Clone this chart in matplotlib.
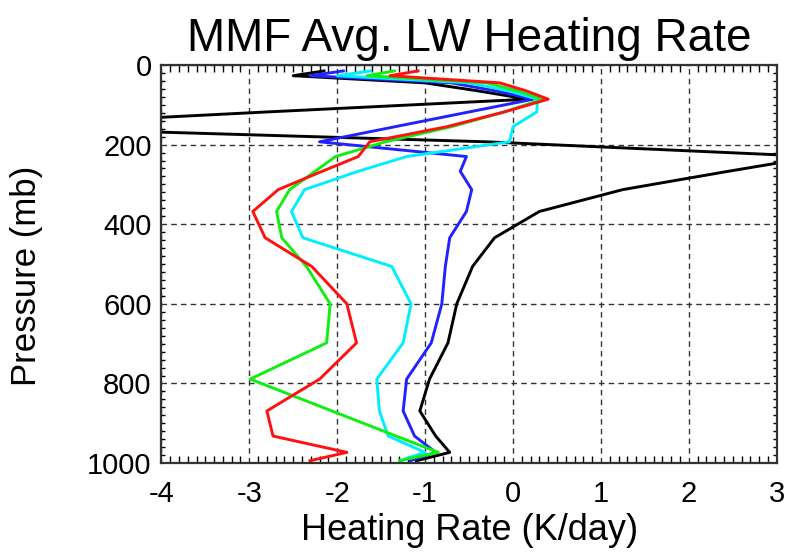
import numpy as np
import matplotlib
matplotlib.use('Agg')
import matplotlib.pyplot as plt
from matplotlib.ticker import MultipleLocator

plt.rcParams['font.family'] = ['Liberation Sans', 'DejaVu Sans']
plt.rcParams['axes.unicode_minus'] = False

# pressure levels (mb) shared by all profiles
pres = [15, 27, 45, 65, 86, 118, 155, 193, 230, 267, 313, 368, 434, 506,
        600, 698, 789, 869, 932, 973, 994]

# heating rate profiles (K/day)
black = [-2.15, -2.5, -1.0, -0.4, 0.17, -2.8, -6.1, -0.3, 3.45, 2.45, 1.25,
         0.30, -0.21, -0.46, -0.64, -0.74, -0.95, -1.06, -0.88, -0.72, -1.1]
blue = [-1.93, -2.31, -0.7, -0.2, 0.23, -0.5, -1.34, -2.2, -0.53, -0.60, -0.47,
        -0.53, -0.72, -0.77, -0.81, -0.93, -1.21, -1.25, -1.12, -0.88, -1.17]
cyan = [-1.62, -2.0, -0.5, -0.05, 0.28, 0.27, 0.0, -0.04, -1.21, -1.76, -2.37,
        -2.52, -2.39, -1.38, -1.16, -1.25, -1.55, -1.52, -1.42, -1.0, -1.29]
green = [-1.35, -1.66, -0.3, 0.05, 0.34, -0.1, -0.7, -1.45, -2.02, -2.25, -2.54,
         -2.69, -2.63, -2.35, -2.08, -2.12, -2.99, -2.06, -1.33, -0.85, -1.29]
red = [-1.08, -1.40, -0.15, 0.15, 0.40, -0.1, -0.75, -1.63, -1.76, -2.17, -2.67,
       -2.96, -2.82, -2.29, -1.89, -1.78, -2.20, -2.80, -2.73, -1.89, -2.31]

fig = plt.figure(figsize=(7.91, 5.60), dpi=100)
ax = fig.add_axes([0.204, 0.173, 0.778, 0.711])

for vals, col in [(black, 'black'), (blue, '#2222ff'), (cyan, '#00eeff'),
                  (green, '#11ee11'), (red, '#ff1111')]:
    ax.plot(vals, pres, color=col, lw=2.1)

ax.set_xlim(-4, 3)
ax.set_ylim(1000, 0)
ax.set_xticks(np.arange(-4, 4, 1))
ax.set_yticks([0, 200, 400, 600, 800, 1000])
ax.xaxis.set_minor_locator(MultipleLocator(0.1))
ax.yaxis.set_minor_locator(MultipleLocator(20))
ax.grid(True, which='major', color='0.2', linestyle=(0, (4, 3)), lw=1.0)
ax.tick_params(which='both', direction='in', top=True, right=True, width=1.0)
ax.tick_params(which='major', length=0, labelsize=21)
ax.tick_params(axis='x', which='major', pad=12)
ax.tick_params(axis='y', which='major', pad=7)
ax.tick_params(axis='x', which='minor', length=5)
ax.tick_params(axis='y', which='minor', length=3)
for s in ax.spines.values():
    s.set_linewidth(1.6)
    s.set_color('0.2')

ax.set_title('MMF Avg. LW Heating Rate', fontsize=33, pad=10)
ax.set_xlabel('Heating Rate (K/day)', fontsize=26, labelpad=4)
ax.set_ylabel('Pressure (mb)', fontsize=25)
ax.yaxis.set_label_coords(-0.192, 0.47)

fig.savefig('out.png', dpi=100)
